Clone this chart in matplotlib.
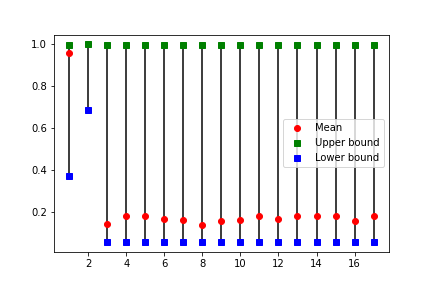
import matplotlib

matplotlib.use("Agg", force=True)

import matplotlib.pyplot as plt
import numpy as np

x = np.arange(1, 18)
mean = [0.956, 0.997, 0.146, 0.181, 0.181, 0.170, 0.165, 0.137, 0.160,
        0.165, 0.184, 0.170, 0.180, 0.180, 0.184, 0.156, 0.180]
upper = [0.994, 0.997] + [0.994] * 15
lower = [0.371, 0.686] + [0.058] * 15

fig, ax = plt.subplots(figsize=(6, 4), dpi=72)
fig.subplots_adjust(bottom=0.125)
ax.vlines(x, lower, upper, color="k", alpha=0.75, linewidth=2)
ax.plot(x, mean, "ro", label="Mean")
ax.plot(x, upper, "gs", label="Upper bound")
ax.plot(x, lower, "bs", label="Lower bound")
ax.legend(loc="center right")

fig.savefig("out.png")
plt.close(fig)
